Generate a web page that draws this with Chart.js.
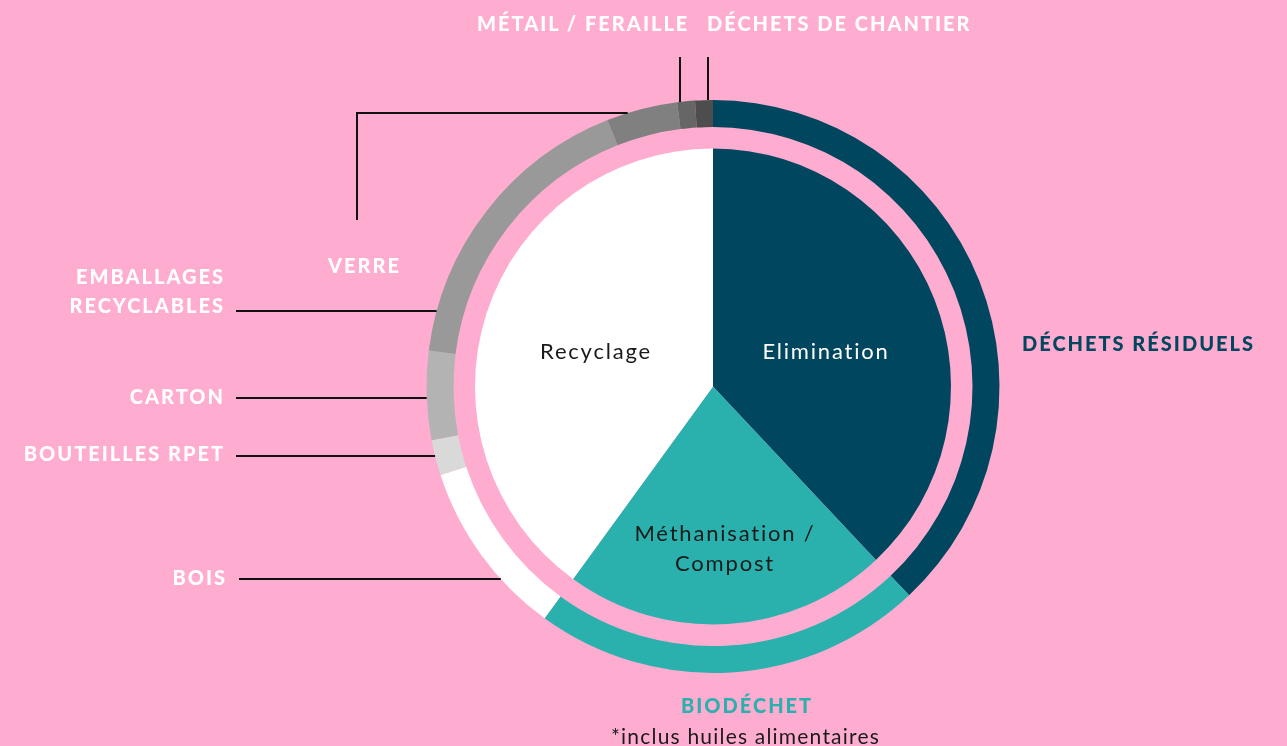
<!DOCTYPE html>
<html lang="fr">
<head>
<meta charset="utf-8">
<title>Déchets</title>
<script src="https://cdn.jsdelivr.net/npm/chart.js@4.4.1/dist/chart.umd.min.js"></script>
<style>
    html, body { margin: 0; padding: 0; background: #ffacd1; }
    #wrap { position: relative; width: 1287px; height: 746px; overflow: hidden; }
    #chart { position: absolute; left: 0; top: 0; }
    .lbl {
        position: absolute;
        font-family: Lato, sans-serif;
        font-weight: 900;
        font-size: 20px;
        letter-spacing: 2px;
        color: #ffffff;
        white-space: nowrap;
        line-height: 29px;
    }
    .right { text-align: right; }
    .inner {
        position: absolute;
        font-family: Lato, sans-serif;
        font-size: 22px;
        letter-spacing: 1.8px;
        color: #1a1a1a;
        white-space: nowrap;
        text-align: center;
        line-height: 30px;
        transform: translate(-50%, -50%);
    }
</style>
</head>
<body>
<div id="wrap">
    <canvas id="chart" width="1287" height="746"></canvas>

    <div class="lbl right" style="right:1062px; top:262px;">EMBALLAGES<br>RECYCLABLES</div>
    <div class="lbl right" style="right:1062px; top:382px;">CARTON</div>
    <div class="lbl right" style="right:1062px; top:439px;">BOUTEILLES RPET</div>
    <div class="lbl right" style="right:1060px; top:563px;">BOIS</div>
    <div class="lbl" style="left:328px; top:251px;">VERRE</div>
    <div class="lbl" style="left:477px; top:9px;">MÉTAIL / FERAILLE</div>
    <div class="lbl" style="left:707px; top:9px;">DÉCHETS DE CHANTIER</div>
    <div class="lbl" style="left:1022px; top:329px; color:#00465e;">DÉCHETS RÉSIDUELS</div>
    <div class="lbl" style="left:681px; top:691px; color:#2ab1ad;">BIODÉCHET</div>
    <div class="lbl" style="left:611px; top:721px; font-weight:400; font-size:21px; color:#1a1a1a; letter-spacing:1.2px;">*inclus huiles alimentaires</div>

    <div class="inner" style="left:596px; top:351px;">Recyclage</div>
    <div class="inner" style="left:826px; top:351px; color:#ffffff;">Elimination</div>
    <div class="inner" style="left:725px; top:548px;">Méthanisation /<br>Compost</div>
</div>

<script>
// Outer ring: waste streams (% of total)
const streamLabels = ['Déchets résiduels', 'Biodéchet', 'Bois', 'Bouteilles RPET', 'Carton',
    'Emballages recyclables', 'Verre', 'Métail / Feraille', 'Déchets de chantier'];
const streamValues = [38, 22, 10, 2, 5, 17, 4, 1, 1];
const streamColors = ['#00465e', '#2ab1ad', '#ffffff', '#d9d9d9', '#b3b3b3',
    '#999999', '#808080', '#666666', '#4d4d4d'];

// Inner pie: treatment
const treatLabels = ['Elimination', 'Méthanisation / Compost', 'Recyclage'];
const treatValues = [38, 22, 40];
const treatColors = ['#00465e', '#2ab1ad', '#ffffff'];

// Leader lines, drawn from the label to the outer edge of the ring
// 'h' = horizontal at y, 'v' = vertical at x going down, 'hv' = up to y2 then horizontal
const leaders = [
    { kind: 'h', x: 236, y: 311 },
    { kind: 'h', x: 236, y: 398 },
    { kind: 'h', x: 236, y: 456 },
    { kind: 'h', x: 239, y: 579 },
    { kind: 'hv', x: 357, y: 220, y2: 113 },
    { kind: 'v', x: 680, y: 57 },
    { kind: 'v', x: 708, y: 57 }
];

const leaderPlugin = {
    id: 'leaders',
    afterDraw(chart) {
        const arc = chart.getDatasetMeta(0).data[0];
        if (!arc) return;
        const cx = arc.x, cy = arc.y, R = arc.outerRadius;
        const c = chart.ctx;
        c.save();
        c.strokeStyle = '#111111';
        c.lineWidth = 2;
        leaders.forEach(l => {
            c.beginPath();
            if (l.kind === 'h') {
                const dx = Math.sqrt(R * R - (l.y - cy) * (l.y - cy));
                c.moveTo(l.x, l.y);
                c.lineTo(cx - dx, l.y);
            } else if (l.kind === 'hv') {
                const dx = Math.sqrt(R * R - (l.y2 - cy) * (l.y2 - cy));
                c.moveTo(l.x, l.y);
                c.lineTo(l.x, l.y2);
                c.lineTo(cx - dx, l.y2);
            } else {
                const dy = Math.sqrt(R * R - (l.x - cx) * (l.x - cx));
                c.moveTo(l.x, l.y);
                c.lineTo(l.x, cy - dy);
            }
            c.stroke();
        });
        c.restore();
    }
};

new Chart(document.getElementById('chart'), {
    type: 'pie',
    data: {
        labels: streamLabels,
        datasets: [
            {
                label: 'Flux',
                data: streamValues,
                backgroundColor: streamColors,
                borderWidth: 0,
                weight: 27
            },
            {
                // pink gap between the ring and the pie
                label: 'gap',
                data: [1],
                backgroundColor: 'rgba(0,0,0,0)',
                borderWidth: 0,
                weight: 21.5
            },
            {
                label: 'Traitement',
                data: treatValues,
                backgroundColor: treatColors,
                borderWidth: 0,
                weight: 238
            }
        ]
    },
    options: {
        responsive: false,
        animation: false,
        events: [],
        hoverOffset: 0,
        layout: {
            padding: { top: 100, bottom: 73, left: 426.5, right: 287.5 }
        },
        plugins: {
            legend: { display: false },
            tooltip: { enabled: false }
        }
    },
    plugins: [leaderPlugin]
});
</script>
</body>
</html>
